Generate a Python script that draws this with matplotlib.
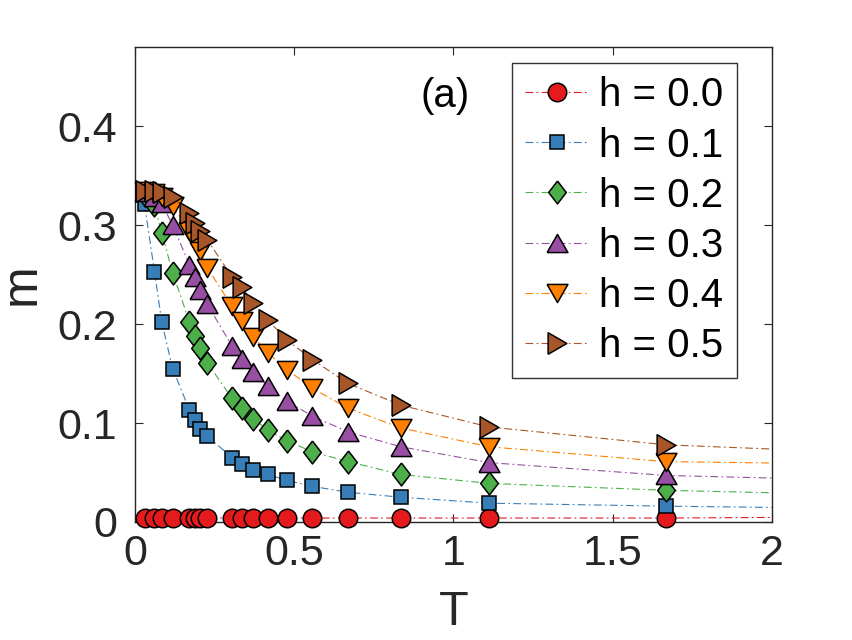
import matplotlib
matplotlib.use("Agg")
import matplotlib.pyplot as plt

plt.rcParams['font.family'] = ['Liberation Sans', 'DejaVu Sans']

# ---- data ----
T = [0.030, 0.061, 0.084, 0.118, 0.171, 0.187, 0.204, 0.227, 0.304, 0.335,
     0.371, 0.417, 0.477, 0.557, 0.669, 0.835, 1.112, 1.667]
m_h00 = [0.004, 0.004, 0.004, 0.004, 0.004, 0.004, 0.004, 0.004, 0.004, 0.004,
         0.004, 0.004, 0.004, 0.004, 0.004, 0.004, 0.004, 0.004]
m_h01 = [0.321, 0.253, 0.202, 0.155, 0.113, 0.103, 0.094, 0.087, 0.065, 0.059,
         0.053, 0.048, 0.042, 0.036, 0.030, 0.025, 0.019, 0.016]
m_h02 = [0.330, 0.320, 0.292, 0.252, 0.202, 0.188, 0.176, 0.161, 0.125, 0.115,
         0.104, 0.093, 0.082, 0.071, 0.061, 0.048, 0.039, 0.032]
m_h03 = [0.333, 0.328, 0.322, 0.300, 0.260, 0.248, 0.234, 0.220, 0.178, 0.165,
         0.152, 0.137, 0.122, 0.107, 0.091, 0.076, 0.060, 0.047]
m_h04 = [0.334, 0.332, 0.328, 0.319, 0.294, 0.284, 0.274, 0.257, 0.218, 0.203,
         0.187, 0.171, 0.154, 0.135, 0.115, 0.095, 0.076, 0.061]
m_h05 = [0.334, 0.334, 0.333, 0.328, 0.312, 0.302, 0.294, 0.285, 0.248, 0.237,
         0.221, 0.204, 0.184, 0.164, 0.140, 0.118, 0.096, 0.078]
T_end = 2.0
m_end = [0.0046, 0.0147, 0.0295, 0.0444, 0.0596, 0.0737]
labels = ['h = 0.0', 'h = 0.1', 'h = 0.2', 'h = 0.3', 'h = 0.4', 'h = 0.5']
series = [m_h00, m_h01, m_h02, m_h03, m_h04, m_h05]

colors = ['#E41A1C', '#377EB8', '#4DAF4A', '#984EA3', '#FF7F00', '#A65628']
diamond = [(0, 1), (0.77, 0), (0, -1), (-0.77, 0), (0, 1)]
tri_up = [(-1, -0.87), (1, -0.87), (0, 0.87), (-1, -0.87)]
tri_dn = [(-1, 0.87), (1, 0.87), (0, -0.87), (-1, 0.87)]
tri_rt = [(-0.87, -1), (-0.87, 1), (0.87, 0), (-0.87, -1)]
markers = ['o', 's', diamond, tri_up, tri_dn, tri_rt]
msizes = [13.3, 10.3, 16.5, 15.0, 15.0, 15.5]

fig = plt.figure(figsize=(8.53, 6.4), dpi=100)
ax = fig.add_axes([0.1583, 0.1844, 0.7467, 0.7422])

axc = '#262626'
for i, (m, lab) in enumerate(zip(series, labels)):
    ax.plot(T + [T_end], m + [m_end[i]], color=colors[i], lw=0.8,
            linestyle=(0, (7, 3, 1.5, 3)), marker=markers[i],
            markersize=msizes[i], markerfacecolor=colors[i],
            markeredgecolor='black', markeredgewidth=1.1,
            markevery=list(range(len(T))), label=lab, zorder=3 + i,
            clip_on=False)

ax.set_xlim(0, 2)
ax.set_ylim(0, 0.48)
ax.set_xticks([0, 0.5, 1, 1.5, 2])
ax.set_xticklabels(['0', '0.5', '1', '1.5', '2'])
ax.set_yticks([0, 0.1, 0.2, 0.3, 0.4])
ax.set_yticklabels(['0', '0.1', '0.2', '0.3', '0.4'])
ax.tick_params(direction='in', length=6, width=0.8, colors=axc,
               labelsize=31, top=True, right=True)
ax.tick_params(axis='x', pad=9)
ax.tick_params(axis='y', pad=13)
for s in ax.spines.values():
    s.set_color(axc)
    s.set_linewidth(1.0)

ax.set_xlabel('T', fontsize=35, color=axc, labelpad=11)
ax.set_ylabel('m', fontsize=36, color=axc, labelpad=9)

ax.text(0.973, 0.43, '(a)', fontsize=29, ha='center', va='center', color='black')

leg = ax.legend(loc='upper right', bbox_to_anchor=(0.945, 0.966), borderaxespad=0,
                fontsize=29, frameon=True, fancybox=False, edgecolor='black',
                handlelength=1.6, handletextpad=0.25, labelspacing=0.3,
                borderpad=0.33)
leg.get_frame().set_linewidth(1.0)

fig.savefig('out.png', dpi=100)
